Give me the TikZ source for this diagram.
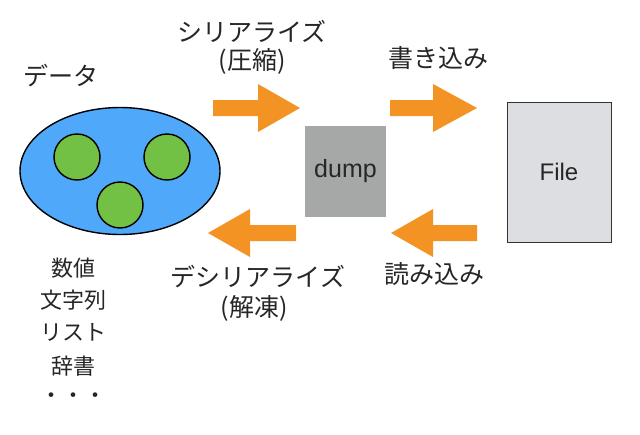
\documentclass[tikz,border=0pt]{standalone}
\usepackage{fontspec}
\usetikzlibrary{shapes.geometric}
\setmainfont{Liberation Sans}
\newfontfamily\jp{Noto Sans CJK JP}
\definecolor{ellblue}{HTML}{4FA8FA}
\definecolor{ballgreen}{HTML}{72C044}
\definecolor{arrorange}{HTML}{F39323}
\definecolor{dumpgray}{HTML}{A6A8A7}
\definecolor{filegray}{HTML}{DDDEE2}
\definecolor{fileedge}{HTML}{333333}
\begin{document}
\begin{tikzpicture}[x=1pt,y=-1pt,
  jtext/.style={font=\jp\fontsize{25}{28}\selectfont, inner sep=0pt, text=black!85},
  ltext/.style={font=\jp\fontsize{22}{25}\selectfont, inner sep=0pt, text=black!85},
  ball/.style={circle, draw=black, line width=1.4pt, fill=ballgreen, minimum size=46pt, inner sep=0pt},
  fatarrow/.style={fill=arrorange}
]
\useasboundingbox (0,0) rectangle (640,434);
\fill[white] (0,0) rectangle (640,434);
% data ellipse
\node (data) [ellipse, draw=black, line width=1.4pt, fill=ellblue, minimum width=200pt, minimum height=127pt, inner sep=0pt] at (120,171) {};
\node (b1) [ball] at (77,157) {};
\node (b2) [ball] at (167,157) {};
\node (b3) [ball] at (120,205) {};
\node (datalabel) [jtext] at (61,76) {データ};
% dump box
\node (dump) [fill=dumpgray, minimum width=81pt, minimum height=91pt, inner sep=0pt, font=\fontsize{25}{28}\selectfont, text=black!85] at (345.5,171.5) {dump};
% file box
\node (file) [fill=filegray, draw=fileedge, line width=1pt, minimum width=104pt, minimum height=140pt, inner sep=0pt, font=\fontsize{24}{28}\selectfont, text=black!85] at (559,172) {File};
% arrows
\newcommand{\rarrow}[4]{% tail x, head start x, tip x, y
  \fill[fatarrow] (#1,#4-8) -- (#2,#4-8) -- (#2,#4-24) -- (#3,#4) -- (#2,#4+24) -- (#2,#4+8) -- (#1,#4+8) -- cycle;}
\rarrow{213}{258}{300}{108}
\rarrow{390}{433}{477}{108}
\rarrow{296}{250}{208}{233}
\rarrow{477}{433}{391}{233}
% labels
\node (ser) [jtext] at (252,31) {シリアライズ};
\node (serp) [jtext] at (252,61) {(圧縮)};
\node (write) [jtext] at (438,58) {書き込み};
\node (deser) [jtext] at (258,277) {デシリアライズ};
\node (deserp) [jtext] at (254,308) {(解凍)};
\node (read) [jtext] at (434,274) {読み込み};
% list
\node (l1) [ltext] at (73,268) {数値};
\node (l2) [ltext] at (73,300) {文字列};
\node (l3) [ltext] at (73,332) {リスト};
\node (l4) [ltext] at (73,366) {辞書};
\node (l5) [ltext] at (73,398) {・・・};
\end{tikzpicture}
\end{document}
